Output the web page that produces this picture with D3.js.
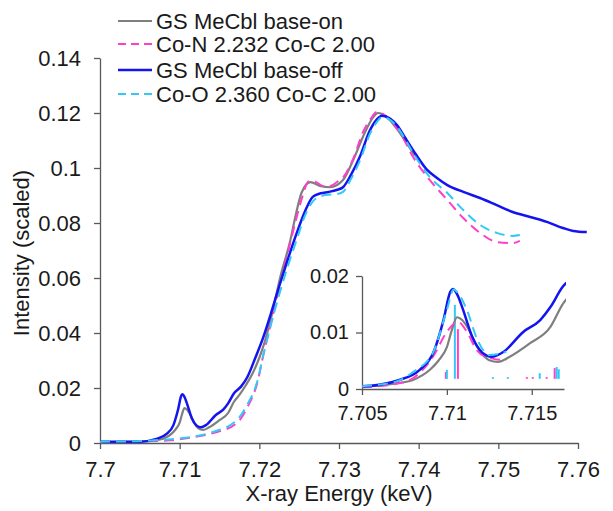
<!DOCTYPE html>
<html>
<head>
<meta charset="utf-8">
<script src="https://cdn.jsdelivr.net/npm/d3@7"></script>
<style>
  body { margin: 0; background: #fff; }
  text { font-family: Arial, "Liberation Sans", sans-serif; fill: #1a1a1a; }
  .axis path, .axis line { stroke: #595959; stroke-width: 1.3; }
</style>
</head>
<body>
<script>
// GS MeCbl base-on (experimental)
const baseOnE = [7.700, 7.703, 7.705, 7.707, 7.708, 7.709, 7.7095, 7.710, 7.7103, 7.7106, 7.7109, 7.7112, 7.7118, 7.7125, 7.713, 7.7137, 7.7149, 7.7161, 7.7168, 7.7175, 7.7183, 7.7191, 7.720, 7.7207, 7.7216, 7.7226, 7.7239, 7.7245, 7.7253, 7.7264, 7.7276, 7.7289, 7.7305, 7.7318, 7.733, 7.7343, 7.7349, 7.736, 7.7372, 7.7385, 7.7395];
const baseOnI = [0.0003, 0.0004, 0.0005, 0.0010, 0.0016, 0.0034, 0.0050, 0.0074, 0.0105, 0.0127, 0.0122, 0.0110, 0.0074, 0.0051, 0.0048, 0.0057, 0.0081, 0.0110, 0.0149, 0.0175, 0.0210, 0.0250, 0.0310, 0.0370, 0.0470, 0.0600, 0.0738, 0.0820, 0.0910, 0.0949, 0.0935, 0.0930, 0.0956, 0.1030, 0.1113, 0.1185, 0.1200, 0.1185, 0.1145, 0.1090, 0.1045];

// Co-N 2.232 Co-C 2.00 (calculated)
const coNE = [7.700, 7.704, 7.7088, 7.7115, 7.7142, 7.7172, 7.7185, 7.7198, 7.7205, 7.7215, 7.7226, 7.7236, 7.7245, 7.7254, 7.7262, 7.727, 7.728, 7.7289, 7.7298, 7.7305, 7.7318, 7.733, 7.734, 7.7348, 7.7356, 7.7364, 7.7377, 7.7393, 7.7414, 7.7436, 7.7456, 7.7477, 7.7498, 7.7518, 7.7527];
const coNI = [0.0004, 0.0005, 0.0010, 0.0020, 0.0036, 0.0073, 0.0130, 0.0225, 0.0320, 0.0440, 0.0575, 0.0695, 0.0800, 0.0895, 0.0952, 0.0950, 0.0935, 0.0935, 0.0950, 0.0965, 0.1035, 0.1130, 0.1180, 0.1204, 0.1195, 0.1175, 0.1127, 0.1040, 0.0956, 0.0884, 0.0818, 0.0764, 0.0731, 0.0727, 0.0735];

// GS MeCbl base-off (experimental)
const baseOffE = [7.700, 7.703, 7.705, 7.7072, 7.7084, 7.7092, 7.7098, 7.7102, 7.71035, 7.7106, 7.7109, 7.7115, 7.7121, 7.71265, 7.7133, 7.7145, 7.7155, 7.7161, 7.7168, 7.7177, 7.7185, 7.7195, 7.7205, 7.7215, 7.7226, 7.7236, 7.7247, 7.7257, 7.7267, 7.7277, 7.7287, 7.7297, 7.7305, 7.7315, 7.7326, 7.7339, 7.7347, 7.7354, 7.7364, 7.7373, 7.7383, 7.7393, 7.741, 7.7423, 7.7436, 7.7456, 7.7477, 7.7498, 7.7518, 7.754, 7.7561, 7.7581, 7.7594, 7.7611];
const baseOffI = [0.0005, 0.0005, 0.0005, 0.0016, 0.0034, 0.0064, 0.0122, 0.0172, 0.0177, 0.0168, 0.0145, 0.0092, 0.0064, 0.0057, 0.0065, 0.0101, 0.0122, 0.0145, 0.0180, 0.0205, 0.0240, 0.0310, 0.0385, 0.0475, 0.0580, 0.0670, 0.0764, 0.0840, 0.0895, 0.0908, 0.0913, 0.0920, 0.0930, 0.0975, 0.1040, 0.1138, 0.1175, 0.1190, 0.1180, 0.1155, 0.1110, 0.1065, 0.0995, 0.0964, 0.0938, 0.0913, 0.0891, 0.0865, 0.0840, 0.0822, 0.0804, 0.0782, 0.0771, 0.0767];

// Co-O 2.360 Co-C 2.00 (calculated)
const coOE = [7.700, 7.704, 7.708, 7.7104, 7.7142, 7.7172, 7.7185, 7.7198, 7.7205, 7.7215, 7.7226, 7.7236, 7.7247, 7.7257, 7.7267, 7.7277, 7.7287, 7.7297, 7.7305, 7.7315, 7.7326, 7.7339, 7.7347, 7.7354, 7.7364, 7.7373, 7.7383, 7.7393, 7.7414, 7.7436, 7.7456, 7.7477, 7.7498, 7.7518, 7.7527];
const coOI = [0.0005, 0.0006, 0.0012, 0.0018, 0.0040, 0.0084, 0.0140, 0.0230, 0.0320, 0.0435, 0.0550, 0.0645, 0.0740, 0.0825, 0.0878, 0.0897, 0.0903, 0.0905, 0.0913, 0.0960, 0.1025, 0.1125, 0.1165, 0.1185, 0.1175, 0.1150, 0.1105, 0.1055, 0.0967, 0.0909, 0.0847, 0.0793, 0.0764, 0.0753, 0.0756];

// calculated pre-edge (inset only)
const preE = [7.705, 7.707, 7.708, 7.70918, 7.710, 7.7104, 7.71065, 7.71118, 7.71176, 7.7125, 7.7135];
const preNI = [0.0003, 0.0009, 0.0019, 0.0057, 0.0101, 0.0115, 0.0119, 0.0101, 0.0069, 0.0055, 0.0051];
const preOI = [0.0005, 0.0013, 0.0030, 0.0064, 0.0140, 0.0176, 0.0170, 0.0140, 0.0090, 0.0060, 0.0066];

// transition sticks (inset)
const stickBase = 0.0018;
const stickNE = [7.70994, 7.71065, 7.71471, 7.71506, 7.71588, 7.71635];
const stickNI = [0.0030, 0.0106, 0.0021, 0.0021, 0.0021, 0.0037];
const stickOE = [7.7100, 7.71047, 7.71271, 7.71359, 7.71547, 7.71647, 7.71659];
const stickOI = [0.0034, 0.0149, 0.0021, 0.0021, 0.0028, 0.0039, 0.0035];

const xTicks = [7.7, 7.71, 7.72, 7.73, 7.74, 7.75, 7.76];
const yTicks = [0, 0.02, 0.04, 0.06, 0.08, 0.1, 0.12, 0.14];
const insetXTicks = [7.705, 7.71, 7.715];
const insetYTicks = [0, 0.01, 0.02];

const legendLabels = ["GS MeCbl base-on", "Co-N 2.232 Co-C 2.00", "GS MeCbl base-off", "Co-O 2.360 Co-C 2.00"];

const colors = { on: "#7f7f7f", n: "#ff3fc8", off: "#1414f0", o: "#33c8f5" };

function zip(es, is) {
    return es.map((e, i) => ({ e: e, v: is[i] }));
}

const series = [
    { key: "on", data: zip(baseOnE, baseOnI), color: colors.on, dash: null, w: 2.2 },
    { key: "n", data: zip(coNE, coNI), color: colors.n, dash: "10,6", w: 2 },
    { key: "off", data: zip(baseOffE, baseOffI), color: colors.off, dash: null, w: 2.5 },
    { key: "o", data: zip(coOE, coOI), color: colors.o, dash: "10,6", w: 2 }
];

const width = 613, height = 511;
const svg = d3.select("body").append("svg")
    .attr("width", width)
    .attr("height", height);

const x = d3.scaleLinear().domain([7.7, 7.76]).range([100, 578]);
const y = d3.scaleLinear().domain([0, 0.14]).range([443, 58]);

// main axes
svg.append("g")
    .attr("class", "axis")
    .attr("transform", "translate(0,443)")
    .call(d3.axisBottom(x).tickValues(xTicks).tickFormat(d => String(d)).tickSize(6).tickSizeOuter(0).tickPadding(12))
    .selectAll("text").style("font-size", "22px");

svg.append("g")
    .attr("class", "axis")
    .attr("transform", "translate(100,0)")
    .call(d3.axisLeft(y).tickValues(yTicks).tickFormat(d => String(d)).tickSize(6).tickSizeOuter(0).tickPadding(13))
    .selectAll("text").style("font-size", "22px");

svg.append("text")
    .attr("x", 339)
    .attr("y", 501)
    .attr("text-anchor", "middle")
    .style("font-size", "22px")
    .text("X-ray Energy (keV)");

svg.append("text")
    .attr("transform", "translate(29,253) rotate(-90)")
    .attr("text-anchor", "middle")
    .style("font-size", "22px")
    .text("Intensity (scaled)");

// main lines
const line = d3.line()
    .x(d => x(d.e))
    .y(d => y(d.v))
    .curve(d3.curveMonotoneX);

svg.selectAll(".series")
    .data(series)
    .enter()
    .append("path")
    .attr("class", "series")
    .attr("fill", "none")
    .attr("stroke", d => d.color)
    .attr("stroke-width", d => d.w)
    .attr("stroke-dasharray", d => d.dash)
    .attr("d", d => line(d.data));

// legend
const legend = svg.append("g");
series.forEach((s, i) => {
    const ly = [21, 44, 70, 94][i];
    legend.append("line")
        .attr("x1", 118).attr("x2", 152)
        .attr("y1", ly).attr("y2", ly)
        .attr("stroke", s.color)
        .attr("stroke-width", s.w)
        .attr("stroke-dasharray", s.dash ? "8,5" : null);
    legend.append("text")
        .attr("x", 156)
        .attr("y", ly)
        .attr("dy", "0.35em")
        .style("font-size", "22px")
        .text(legendLabels[i]);
});

// inset
const ix = d3.scaleLinear().domain([7.705, 7.7169]).range([362, 564]);
const iy = d3.scaleLinear().domain([0, 0.02]).range([389, 276]);

svg.append("defs").append("clipPath")
    .attr("id", "insetClip")
    .append("rect")
    .attr("x", 362).attr("y", 268)
    .attr("width", 204).attr("height", 121);

svg.append("g")
    .attr("class", "axis")
    .attr("transform", "translate(0,389)")
    .call(d3.axisBottom(ix).tickValues(insetXTicks).tickFormat(d => String(d)).tickSize(6).tickSizeOuter(0).tickPadding(11))
    .selectAll("text").style("font-size", "20px");

svg.append("g")
    .attr("class", "axis")
    .attr("transform", "translate(362,0)")
    .call(d3.axisLeft(iy).tickValues(insetYTicks).tickFormat(d => String(d)).tickSize(6).tickSizeOuter(0).tickPadding(7))
    .selectAll("text").style("font-size", "20px");

const inset = svg.append("g").attr("clip-path", "url(#insetClip)");

const iline = d3.line()
    .x(d => ix(d.e))
    .y(d => iy(d.v))
    .curve(d3.curveMonotoneX);

// sticks
inset.selectAll(".stickN")
    .data(zip(stickNE, stickNI))
    .enter()
    .append("line")
    .attr("x1", d => ix(d.e)).attr("x2", d => ix(d.e))
    .attr("y1", iy(stickBase)).attr("y2", d => iy(d.v))
    .attr("stroke", colors.n)
    .attr("stroke-width", 2);

inset.selectAll(".stickO")
    .data(zip(stickOE, stickOI))
    .enter()
    .append("line")
    .attr("x1", d => ix(d.e)).attr("x2", d => ix(d.e))
    .attr("y1", iy(stickBase)).attr("y2", d => iy(d.v))
    .attr("stroke", colors.o)
    .attr("stroke-width", 2);

const insetSeries = [
    { data: zip(baseOnE, baseOnI), color: colors.on, dash: null, w: 2.2 },
    { data: zip(preE, preNI), color: colors.n, dash: "10,6", w: 2 },
    { data: zip(baseOffE, baseOffI), color: colors.off, dash: null, w: 2.5 },
    { data: zip(preE, preOI), color: colors.o, dash: "10,6", w: 2 }
];

inset.selectAll(".iseries")
    .data(insetSeries)
    .enter()
    .append("path")
    .attr("fill", "none")
    .attr("stroke", d => d.color)
    .attr("stroke-width", d => d.w)
    .attr("stroke-dasharray", d => d.dash)
    .attr("d", d => iline(d.data));
</script>
</body>
</html>
